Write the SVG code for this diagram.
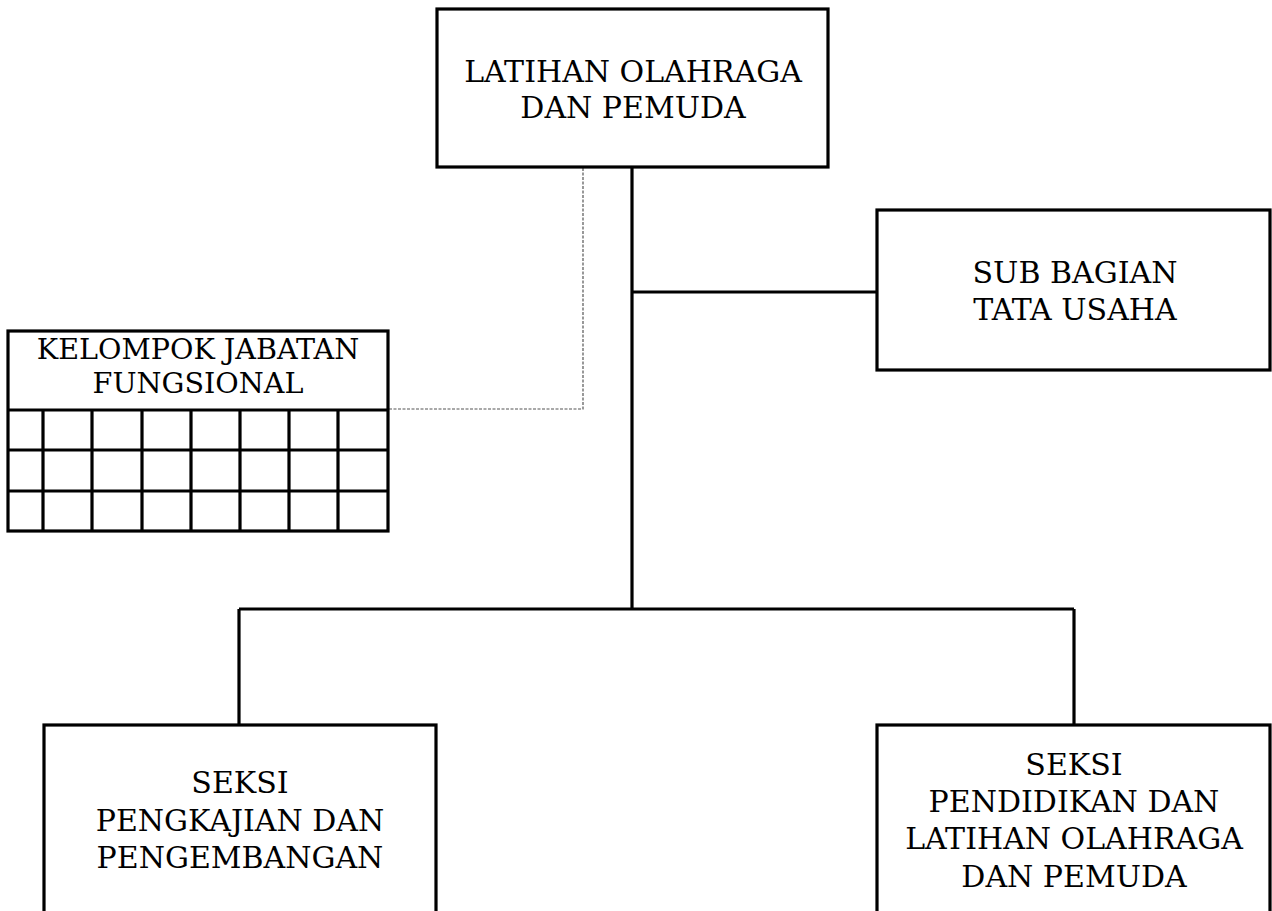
<svg xmlns="http://www.w3.org/2000/svg" width="1272" height="911" viewBox="0 0 1272 911">
<style>
.box{fill:#fff;stroke:#000;stroke-width:3.2}
.ln{fill:none;stroke:#000;stroke-width:3.2}
.dash{fill:none;stroke:#555;stroke-width:1.2;stroke-dasharray:3,1.5}
text{font-family:"DejaVu Serif","Liberation Serif",serif;font-size:30px;fill:#000;text-anchor:middle}
.sm{font-size:28.6px}
</style>
<rect width="1272" height="911" fill="#fff"/>
<g id="connectors">
<path class="dash" d="M583,168 V409 H388"/>
<path class="ln" d="M632,168 V609"/>
<path class="ln" d="M632,292 H877"/>
<path class="ln" d="M239,609 H1074"/>
<path class="ln" d="M239,609 V725"/>
<path class="ln" d="M1074,609 V725"/>
</g>
<g id="n-top">
<rect class="box" x="437" y="9" width="391" height="158"/>
<text x="633" y="82">LATIHAN OLAHRAGA</text>
<text x="633" y="118">DAN PEMUDA</text>
</g>
<g id="n-subbagian">
<rect class="box" x="877" y="210" width="393" height="160"/>
<text x="1075" y="283">SUB BAGIAN</text>
<text x="1075" y="320">TATA USAHA</text>
</g>
<g id="n-kelompok">
<rect class="box" x="8" y="331" width="380" height="200"/>
<path class="ln" d="M8,410 H388 M8,450 H388 M8,491 H388 M43,410 V531 M92,410 V531 M142,410 V531 M191,410 V531 M240,410 V531 M289,410 V531 M338,410 V531"/>
<text class="sm" x="198" y="359">KELOMPOK JABATAN</text>
<text class="sm" x="198" y="393">FUNGSIONAL</text>
</g>
<g id="n-pengkajian">
<rect class="box" x="44" y="725" width="392" height="200"/>
<text x="240" y="793">SEKSI</text>
<text x="240" y="831">PENGKAJIAN DAN</text>
<text x="240" y="868">PENGEMBANGAN</text>
</g>
<g id="n-pendidikan">
<rect class="box" x="877" y="725" width="393" height="200"/>
<text x="1074" y="775">SEKSI</text>
<text x="1074" y="812">PENDIDIKAN DAN</text>
<text x="1074" y="849">LATIHAN OLAHRAGA</text>
<text x="1074" y="887">DAN PEMUDA</text>
</g>
</svg>
